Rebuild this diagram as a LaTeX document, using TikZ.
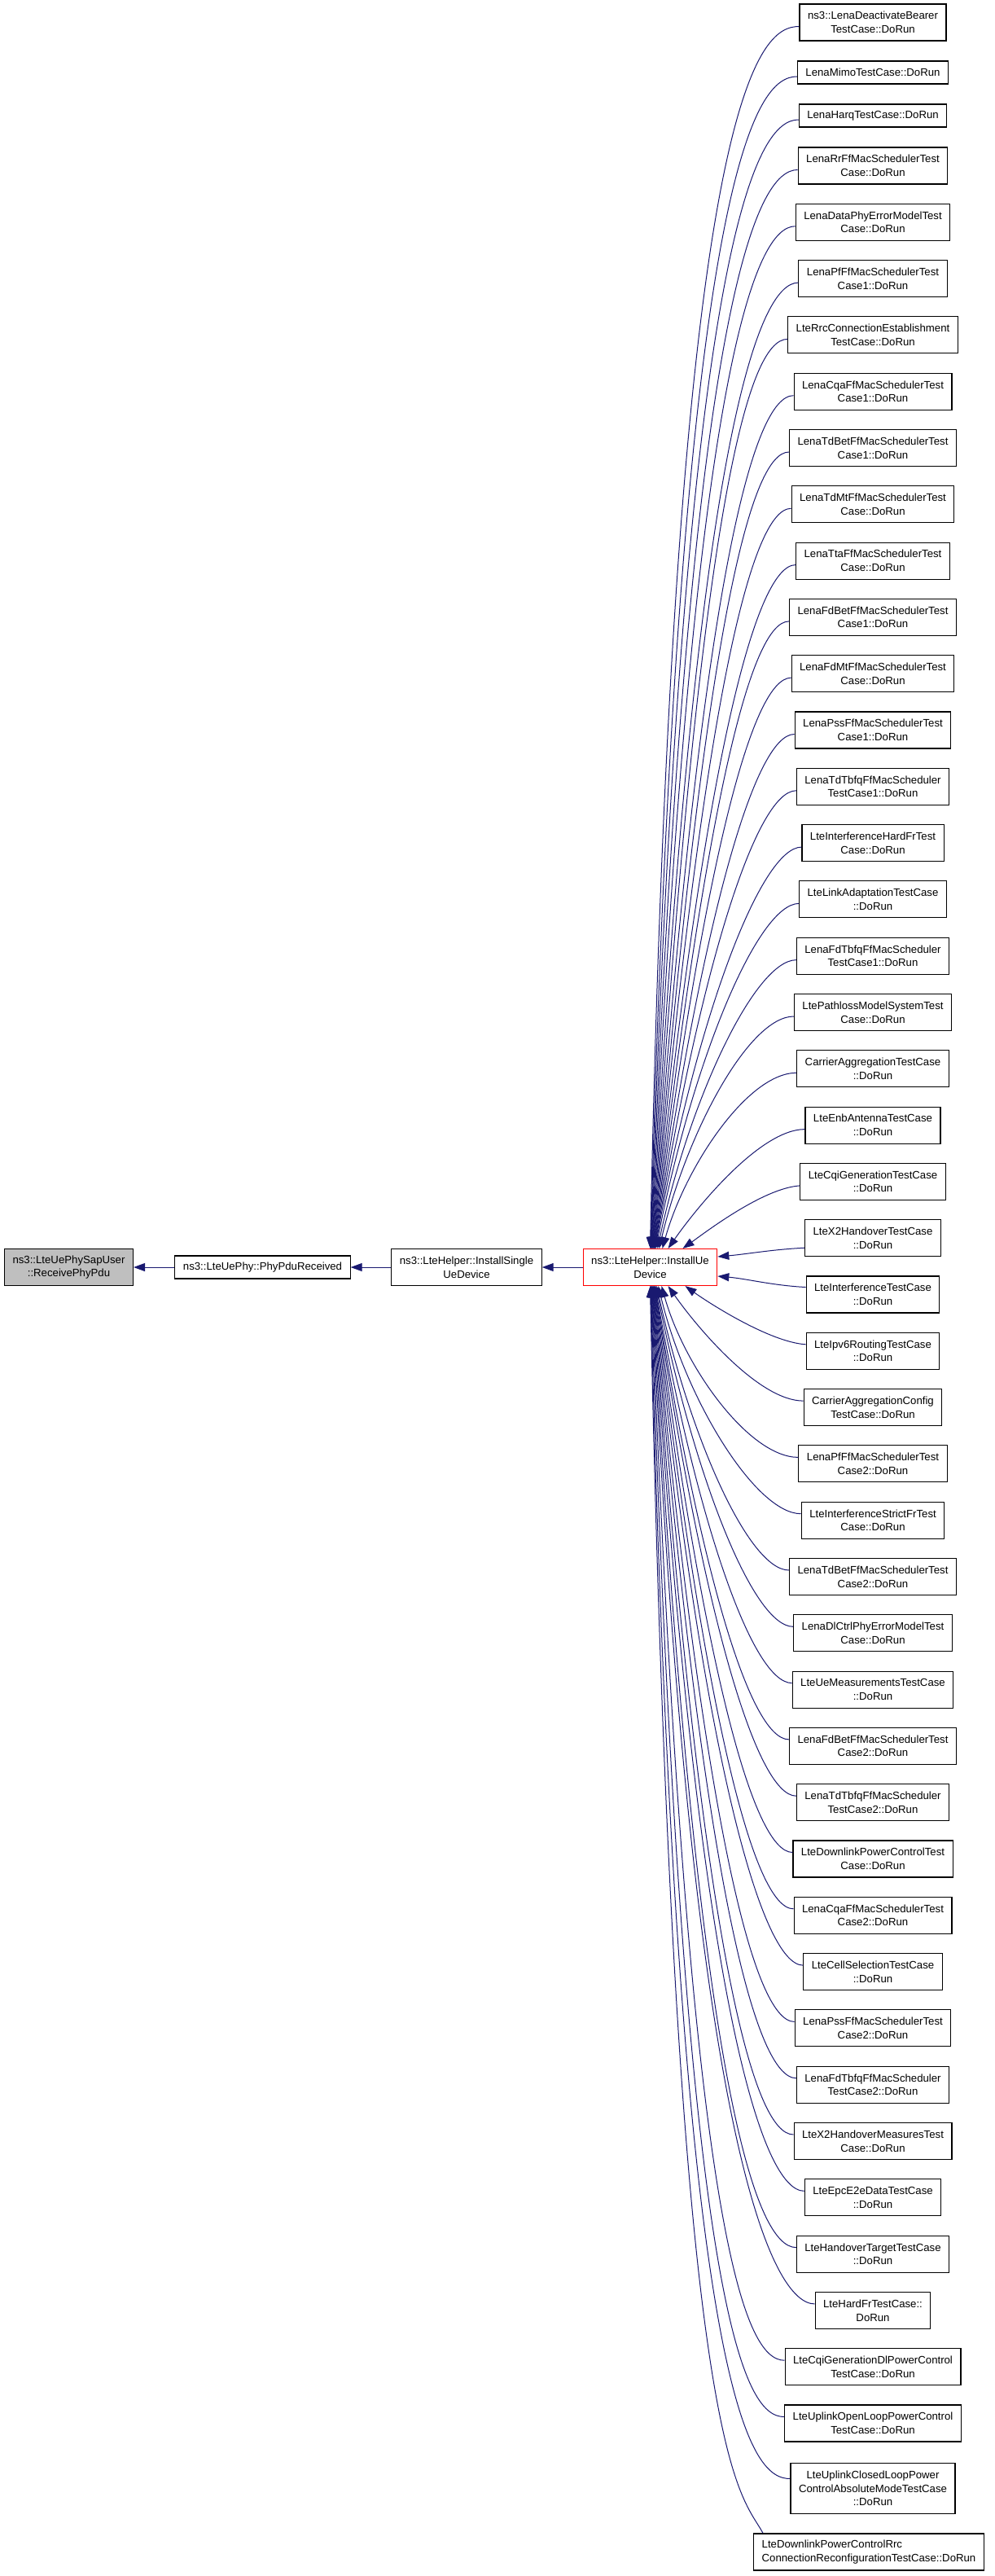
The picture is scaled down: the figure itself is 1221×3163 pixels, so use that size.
\documentclass[tikz,border=0pt]{standalone}
\usepackage{fontspec}
\setmainfont{Liberation Sans}
\usetikzlibrary{arrows.meta}
\definecolor{edgeblue}{HTML}{191970}
\definecolor{rootgray}{HTML}{BFBFBF}

\begin{document}
\begin{tikzpicture}[x=1pt, y=-1pt]
	\tikzset{fn/.style={rectangle, draw=black, line width=1.1pt, fill=white, font=\fontsize{13.2pt}{16.7pt}\selectfont, align=center, inner xsep=10pt, inner ysep=0pt, minimum height=45pt},
		fnone/.style={fn, minimum height=28pt},
		fnthree/.style={fn, minimum height=62pt},
		call/.style={draw=edgeblue, line width=1pt, -{Triangle[length=14pt, width=10pt]}}};

	\useasboundingbox (0,0) rectangle (1221,3163);

	\node[fn, fill=rootgray] (sap) at (84.5,1556) {ns3::LteUePhySapUser\\::ReceivePhyPdu};
	\node[fnone] (phy) at (322.5,1556) {ns3::LteUePhy::PhyPduReceived};
	\node[fn] (single) at (573,1556) {ns3::LteHelper::InstallSingle\\UeDevice};
	\node[fn, draw=red] (ue) at (798.5,1556) {ns3::LteHelper::InstallUe\\Device};

	\node[fn] (t1) at (1072,27.5) {ns3::LenaDeactivateBearer\\TestCase::DoRun};
	\node[fnone] (t2) at (1072,89) {LenaMimoTestCase::DoRun};
	\node[fnone] (t3) at (1072,142) {LenaHarqTestCase::DoRun};
	\node[fn] (t4) at (1072,203.5) {LenaRrFfMacSchedulerTest\\Case::DoRun};
	\node[fn] (t5) at (1072,272.8) {LenaDataPhyErrorModelTest\\Case::DoRun};
	\node[fn] (t6) at (1072,342.1) {LenaPfFfMacSchedulerTest\\Case1::DoRun};
	\node[fn] (t7) at (1072,411.4) {LteRrcConnectionEstablishment\\TestCase::DoRun};
	\node[fn] (t8) at (1072,480.7) {LenaCqaFfMacSchedulerTest\\Case1::DoRun};
	\node[fn] (t9) at (1072,550) {LenaTdBetFfMacSchedulerTest\\Case1::DoRun};
	\node[fn] (t10) at (1072,619.3) {LenaTdMtFfMacSchedulerTest\\Case::DoRun};
	\node[fn] (t11) at (1072,688.6) {LenaTtaFfMacSchedulerTest\\Case::DoRun};
	\node[fn] (t12) at (1072,757.9) {LenaFdBetFfMacSchedulerTest\\Case1::DoRun};
	\node[fn] (t13) at (1072,827.2) {LenaFdMtFfMacSchedulerTest\\Case::DoRun};
	\node[fn] (t14) at (1072,896.5) {LenaPssFfMacSchedulerTest\\Case1::DoRun};
	\node[fn] (t15) at (1072,965.8) {LenaTdTbfqFfMacScheduler\\TestCase1::DoRun};
	\node[fn] (t16) at (1072,1035.1) {LteInterferenceHardFrTest\\Case::DoRun};
	\node[fn] (t17) at (1072,1104.4) {LteLinkAdaptationTestCase\\::DoRun};
	\node[fn] (t18) at (1072,1173.7) {LenaFdTbfqFfMacScheduler\\TestCase1::DoRun};
	\node[fn] (t19) at (1072,1243) {LtePathlossModelSystemTest\\Case::DoRun};
	\node[fn] (t20) at (1072,1312.3) {CarrierAggregationTestCase\\::DoRun};
	\node[fn] (t21) at (1072,1381.6) {LteEnbAntennaTestCase\\::DoRun};
	\node[fn] (t22) at (1072,1450.9) {LteCqiGenerationTestCase\\::DoRun};
	\node[fn] (t23) at (1072,1520.2) {LteX2HandoverTestCase\\::DoRun};
	\node[fn] (t24) at (1072,1589.5) {LteInterferenceTestCase\\::DoRun};
	\node[fn] (t25) at (1072,1658.8) {LteIpv6RoutingTestCase\\::DoRun};
	\node[fn] (t26) at (1072,1728.1) {CarrierAggregationConfig\\TestCase::DoRun};
	\node[fn] (t27) at (1072,1797.4) {LenaPfFfMacSchedulerTest\\Case2::DoRun};
	\node[fn] (t28) at (1072,1866.7) {LteInterferenceStrictFrTest\\Case::DoRun};
	\node[fn] (t29) at (1072,1936) {LenaTdBetFfMacSchedulerTest\\Case2::DoRun};
	\node[fn] (t30) at (1072,2005.3) {LenaDlCtrlPhyErrorModelTest\\Case::DoRun};
	\node[fn] (t31) at (1072,2074.6) {LteUeMeasurementsTestCase\\::DoRun};
	\node[fn] (t32) at (1072,2143.9) {LenaFdBetFfMacSchedulerTest\\Case2::DoRun};
	\node[fn] (t33) at (1072,2213.2) {LenaTdTbfqFfMacScheduler\\TestCase2::DoRun};
	\node[fn] (t34) at (1072,2282.5) {LteDownlinkPowerControlTest\\Case::DoRun};
	\node[fn] (t35) at (1072,2351.8) {LenaCqaFfMacSchedulerTest\\Case2::DoRun};
	\node[fn] (t36) at (1072,2421.1) {LteCellSelectionTestCase\\::DoRun};
	\node[fn] (t37) at (1072,2490.4) {LenaPssFfMacSchedulerTest\\Case2::DoRun};
	\node[fn] (t38) at (1072,2559.7) {LenaFdTbfqFfMacScheduler\\TestCase2::DoRun};
	\node[fn] (t39) at (1072,2629) {LteX2HandoverMeasuresTest\\Case::DoRun};
	\node[fn] (t40) at (1072,2698.3) {LteEpcE2eDataTestCase\\::DoRun};
	\node[fn] (t41) at (1072,2767.6) {LteHandoverTargetTestCase\\::DoRun};
	\node[fn] (t42) at (1072,2836.9) {LteHardFrTestCase::\\DoRun};
	\node[fn] (t43) at (1072,2906.2) {LteCqiGenerationDlPowerControl\\TestCase::DoRun};
	\node[fn] (t44) at (1072,2975.5) {LteUplinkOpenLoopPowerControl\\TestCase::DoRun};
	\node[fnthree] (t45) at (1072,3055.5) {LteUplinkClosedLoopPower\\ControlAbsoluteModeTestCase\\::DoRun};
	\node[fn, align=left] (t46) at (1067,3133.5) {LteDownlinkPowerControlRrc\\ConnectionReconfigurationTestCase::DoRun};

	\draw[call] (phy) -- (sap);
	\draw[call] (single) -- (phy);
	\draw[call] (ue) -- (single);

	\draw[call] ([yshift=-5pt]t1.west) .. controls +(-50,0) and +(30,-1425) .. (ue.north);
	\draw[call] ([yshift=-5pt]t2.west) .. controls +(-50,0) and +(36,-1335) .. ([xshift=0.4pt]ue.north);
	\draw[call] ([yshift=-5pt]t3.west) .. controls +(-50,0) and +(41,-1258) .. ([xshift=0.8pt]ue.north);
	\draw[call] ([yshift=-5pt]t4.west) .. controls +(-50,0) and +(46,-1172) .. ([xshift=1.2pt]ue.north);
	\draw[call] ([yshift=-5pt]t5.west) .. controls +(-50,0) and +(50,-1078) .. ([xshift=1.6pt]ue.north);
	\draw[call] ([yshift=-5pt]t6.west) .. controls +(-50,0) and +(54,-989) .. ([xshift=2pt]ue.north);
	\draw[call] ([yshift=-5pt]t7.west) .. controls +(-50,0) and +(58,-903) .. ([xshift=2.4pt]ue.north);
	\draw[call] ([yshift=-5pt]t8.west) .. controls +(-50,0) and +(60,-819) .. ([xshift=2.8pt]ue.north);
	\draw[call] ([yshift=-5pt]t9.west) .. controls +(-50,0) and +(62,-740) .. ([xshift=3.2pt]ue.north);
	\draw[call] ([yshift=-5pt]t10.west) .. controls +(-50,0) and +(62,-665) .. ([xshift=3.6pt]ue.north);
	\draw[call] ([yshift=-5pt]t11.west) .. controls +(-50,0) and +(62,-592) .. ([xshift=4pt]ue.north);
	\draw[call] ([yshift=-5pt]t12.west) .. controls +(-50,0) and +(62,-523) .. ([xshift=4.4pt]ue.north);
	\draw[call] ([yshift=-5pt]t13.west) .. controls +(-50,0) and +(60,-458) .. ([xshift=4.8pt]ue.north);
	\draw[call] ([yshift=-5pt]t14.west) .. controls +(-50,0) and +(58,-396) .. ([xshift=5.2pt]ue.north);
	\draw[call] ([yshift=-5pt]t15.west) .. controls +(-50,0) and +(55,-339) .. ([xshift=5.6pt]ue.north);
	\draw[call] ([yshift=-5pt]t16.west) .. controls +(-50,0) and +(51,-284) .. ([xshift=6pt]ue.north);
	\draw[call] ([yshift=-5pt]t17.west) .. controls +(-50,0) and +(46,-234) .. ([xshift=7pt]ue.north);
	\draw[call] ([yshift=-5pt]t18.west) .. controls +(-50,0) and +(40,-186) .. ([xshift=9pt]ue.north);
	\draw[call] ([yshift=-5pt]t19.west) .. controls +(-55,0) and +(34,-143) .. ([xshift=11pt]ue.north);
	\draw[call] ([yshift=-5pt]t20.west) .. controls +(-60,0) and +(28,-100) .. ([xshift=15pt]ue.north);
	\draw[call] ([yshift=-5pt]t21.west) .. controls +(-55,0) and +(35,-50) .. ([xshift=22pt]ue.north);
	\draw[call] ([yshift=-5pt]t22.west) .. controls +(-45,3) and +(28,-20) .. ([xshift=40pt]ue.north);
	\draw[call] ([yshift=-12pt]t23.west) .. controls +(-40,2) and +(35,-3) .. ([yshift=13pt]ue.east);
	\draw[call] ([yshift=9pt]t24.west) .. controls +(-40,-2) and +(35,3) .. ([yshift=-11pt]ue.east);
	\draw[call] ([yshift=8pt]t25.west) .. controls +(-45,-3) and +(28,20) .. ([xshift=43pt]ue.south);
	\draw[call] ([yshift=8pt]t26.west) .. controls +(-55,0) and +(35,50) .. ([xshift=22pt]ue.south);
	\draw[call] ([yshift=8pt]t27.west) .. controls +(-60,0) and +(28,100) .. ([xshift=14pt]ue.south);
	\draw[call] ([yshift=8pt]t28.west) .. controls +(-55,0) and +(34,141) .. ([xshift=10pt]ue.south);
	\draw[call] ([yshift=8pt]t29.west) .. controls +(-50,0) and +(40,183) .. ([xshift=8pt]ue.south);
	\draw[call] ([yshift=8pt]t30.west) .. controls +(-50,0) and +(46,230) .. ([xshift=7pt]ue.south);
	\draw[call] ([yshift=8pt]t31.west) .. controls +(-50,0) and +(50,281) .. ([xshift=6pt]ue.south);
	\draw[call] ([yshift=8pt]t32.west) .. controls +(-50,0) and +(54,336) .. ([xshift=5.6pt]ue.south);
	\draw[call] ([yshift=8pt]t33.west) .. controls +(-50,0) and +(58,393) .. ([xshift=5.2pt]ue.south);
	\draw[call] ([yshift=8pt]t34.west) .. controls +(-50,0) and +(60,455) .. ([xshift=4.8pt]ue.south);
	\draw[call] ([yshift=8pt]t35.west) .. controls +(-50,0) and +(62,520) .. ([xshift=4.4pt]ue.south);
	\draw[call] ([yshift=8pt]t36.west) .. controls +(-50,0) and +(62,588) .. ([xshift=4pt]ue.south);
	\draw[call] ([yshift=8pt]t37.west) .. controls +(-50,0) and +(62,659) .. ([xshift=3.6pt]ue.south);
	\draw[call] ([yshift=8pt]t38.west) .. controls +(-50,0) and +(62,736) .. ([xshift=3.2pt]ue.south);
	\draw[call] ([yshift=8pt]t39.west) .. controls +(-50,0) and +(60,814) .. ([xshift=2.8pt]ue.south);
	\draw[call] ([yshift=8pt]t40.west) .. controls +(-50,0) and +(58,897) .. ([xshift=2.4pt]ue.south);
	\draw[call] ([yshift=8pt]t41.west) .. controls +(-50,0) and +(55,984) .. ([xshift=2pt]ue.south);
	\draw[call] ([yshift=8pt]t42.west) .. controls +(-50,0) and +(51,1073) .. ([xshift=1.6pt]ue.south);
	\draw[call] ([yshift=8pt]t43.west) .. controls +(-50,0) and +(46,1166) .. ([xshift=1.2pt]ue.south);
	\draw[call] ([yshift=8pt]t44.west) .. controls +(-50,0) and +(40,1264) .. ([xshift=0.8pt]ue.south);
	\draw[call] ([yshift=12pt]t45.west) .. controls +(-50,0) and +(34,1373) .. ([xshift=0.4pt]ue.south);
	\draw[call] ([xshift=12pt]t46.north west) .. controls +(-30,-55) and +(31,1455) .. (ue.south);

\end{tikzpicture}
\end{document}
